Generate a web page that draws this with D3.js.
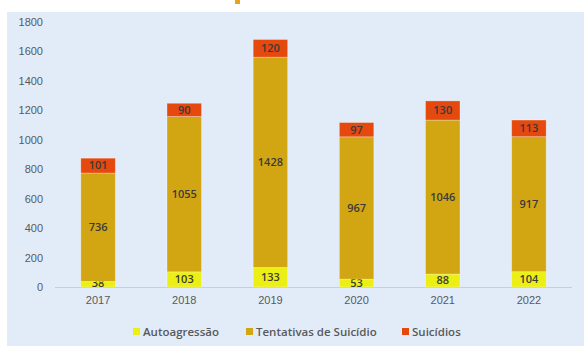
<!DOCTYPE html>
<html>
<head>
<meta charset="utf-8">
<script src="https://cdn.jsdelivr.net/npm/d3@7"></script>
<style>
  body { margin: 0; background: #fff; }
  svg { display: block; font-family: "Open Sans", "Noto Sans", sans-serif; }
</style>
</head>
<body>
<div id="chart"></div>
<script>
const years = ['2017', '2018', '2019', '2020', '2021', '2022']
const autoagressao = [38, 103, 133, 53, 88, 104]
const tentativas = [736, 1055, 1428, 967, 1046, 917]
const suicidios = [101, 90, 120, 97, 130, 113]
const yTicks = [0, 200, 400, 600, 800, 1000, 1200, 1400, 1600, 1800]

const seriesNames = ['Autoagressão', 'Tentativas de Suicídio', 'Suicídios']
const colors = ['#ECEF14', '#D2A612', '#E5490D']

const width = 584
const height = 347

const svg = d3.select('#chart')
  .append('svg')
  .attr('width', width)
  .attr('height', height)

// panel background
svg.append('rect')
  .attr('x', 7)
  .attr('y', 12)
  .attr('width', width - 7)
  .attr('height', height - 13)
  .attr('fill', '#E2ECF9')

// bit of the cut-off title above the panel
svg.append('rect')
  .attr('x', 235)
  .attr('y', 0)
  .attr('width', 5)
  .attr('height', 4)
  .attr('fill', '#E8A317')

const rows = years.map((y, i) => ({
  year: y,
  'Autoagressão': autoagressao[i],
  'Tentativas de Suicídio': tentativas[i],
  'Suicídios': suicidios[i]
}))

const stacked = d3.stack().keys(seriesNames)(rows)

const x = d3.scaleBand()
  .domain(years)
  .range([55, 572])
  .paddingInner(0.6)
  .paddingOuter(0.3)

const y = d3.scaleLinear()
  .domain([0, 1800])
  .range([287, 22])

// y axis labels
const yAxis = svg.append('g')
  .attr('transform', 'translate(43,0)')
  .call(d3.axisLeft(y).tickValues(yTicks).tickFormat(d3.format('d')).tickSize(0).tickPadding(0))
yAxis.select('.domain').remove()
yAxis.selectAll('text')
  .attr('fill', '#595959')
  .style('font-size', '11px')

// x axis
const xAxis = svg.append('g')
  .attr('transform', 'translate(0,287)')
  .call(d3.axisBottom(x).tickSize(0).tickPadding(9))
xAxis.select('.domain')
  .attr('stroke', '#C8CDD6')
  .attr('d', 'M55,0.5H572')
xAxis.selectAll('text')
  .attr('fill', '#595959')
  .style('font-size', '11px')

// bars
const layers = svg.selectAll('.layer')
  .data(stacked)
  .enter()
  .append('g')
  .attr('class', 'layer')
  .attr('fill', (d, i) => colors[i])

layers.selectAll('rect')
  .data(d => d)
  .enter()
  .append('rect')
  .attr('x', d => x(d.data.year))
  .attr('y', d => y(d[1]))
  .attr('width', x.bandwidth())
  .attr('height', d => y(d[0]) - y(d[1]))
  .attr('stroke', 'rgba(255,255,255,0.35)')
  .attr('stroke-width', 0.8)

// value labels
layers.selectAll('text')
  .data(d => d.map(v => ({ v, key: d.key })))
  .enter()
  .append('text')
  .attr('x', d => x(d.v.data.year) + x.bandwidth() / 2)
  .attr('y', d => {
    const mid = (y(d.v[0]) + y(d.v[1])) / 2
    return Math.min(mid, 287 - 4)
  })
  .attr('dy', '0.35em')
  .attr('text-anchor', 'middle')
  .attr('fill', '#3A3A3A')
  .style('font-size', '11px')
  .style('font-weight', '600')
  .text(d => d.v.data[d.key])

// legend
const legendX = [133, 246, 402]
const legend = svg.selectAll('.legend')
  .data(seriesNames)
  .enter()
  .append('g')
  .attr('class', 'legend')
  .attr('transform', (d, i) => 'translate(' + legendX[i] + ',332)')

legend.append('rect')
  .attr('x', 0)
  .attr('y', -4)
  .attr('width', 7)
  .attr('height', 7)
  .attr('fill', (d, i) => colors[i])

legend.append('text')
  .attr('x', 10)
  .attr('dy', '0.35em')
  .attr('fill', '#595959')
  .style('font-size', '11.5px')
  .style('font-weight', '600')
  .text(d => d)
</script>
</body>
</html>
